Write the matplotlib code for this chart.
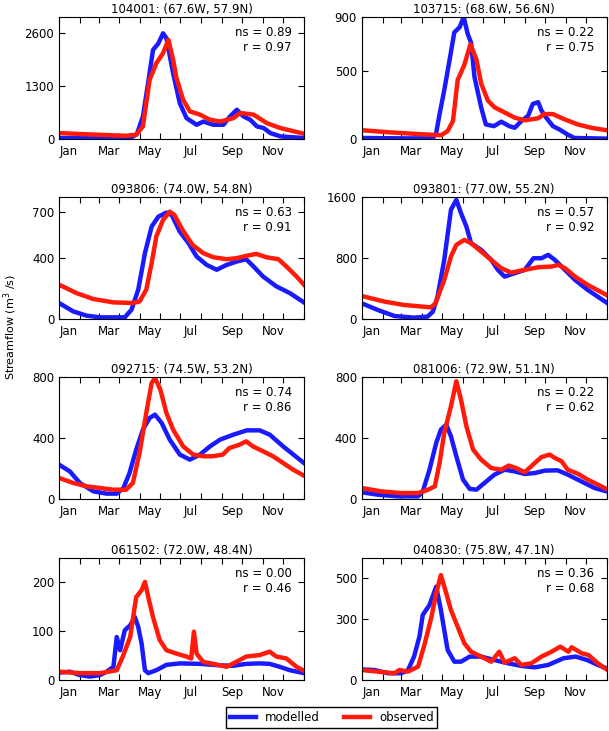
import matplotlib
matplotlib.use("Agg")
import matplotlib.pyplot as plt
from matplotlib.ticker import FixedLocator, FixedFormatter

# Stations: title, ns, r, y-limit, y-ticks
titles = ["104001: (67.6W, 57.9N)", "103715: (68.6W, 56.6N)",
          "093806: (74.0W, 54.8N)", "093801: (77.0W, 55.2N)",
          "092715: (74.5W, 53.2N)", "081006: (72.9W, 51.1N)",
          "061502: (72.0W, 48.4N)", "040830: (75.8W, 47.1N)"]
ns_vals = [0.89, 0.22, 0.63, 0.57, 0.74, 0.22, 0.00, 0.36]
r_vals = [0.97, 0.75, 0.91, 0.92, 0.86, 0.62, 0.46, 0.68]
ymax = [3000, 900, 800, 1600, 800, 800, 250, 600]
yticks = [[0, 1300, 2600], [0, 500, 900], [0, 400, 700], [0, 800, 1600],
          [0, 400, 800], [0, 400, 800], [0, 100, 200], [0, 300, 500]]

# modelled / observed streamflow (day of year, m3/s)
mod_day_1 = [0, 50, 106, 116, 125, 133, 140, 148, 155, 160, 170, 180, 190, 205, 215, 230, 245, 255, 265, 275, 285, 295, 305, 315, 330, 365]
mod_q_1 = [25, 20, 20, 120, 556, 1400, 2190, 2350, 2600, 2480, 1620, 880, 515, 350, 430, 350, 350, 556, 720, 556, 474, 310, 270, 147, 65, 25]
obs_day_1 = [0, 50, 100, 115, 125, 135, 145, 155, 163, 170, 175, 185, 195, 210, 225, 240, 260, 270, 290, 310, 330, 350, 365]
obs_q_1 = [147, 110, 80, 106, 310, 1456, 1865, 2110, 2440, 1950, 1500, 965, 680, 600, 475, 430, 515, 640, 600, 390, 270, 190, 130]

mod_day_2 = [0, 60, 106, 111, 116, 123, 131, 138, 146, 152, 158, 163, 168, 178, 185, 197, 208, 220, 228, 238, 248, 255, 263, 268, 275, 285, 295, 307, 317, 365]
mod_q_2 = [8, 5, 5, 45, 183, 360, 585, 787, 825, 900, 775, 710, 460, 234, 108, 95, 128, 95, 83, 133, 171, 259, 272, 209, 158, 95, 70, 33, 8, 3]
obs_day_2 = [0, 40, 80, 118, 128, 136, 143, 153, 162, 171, 178, 188, 198, 213, 228, 243, 263, 272, 285, 302, 322, 342, 365]
obs_q_2 = [65, 50, 38, 28, 58, 133, 435, 548, 699, 586, 410, 284, 234, 196, 158, 138, 153, 184, 184, 146, 108, 83, 65]

mod_day_3 = [0, 21, 41, 61, 98, 108, 118, 128, 138, 148, 160, 168, 180, 193, 205, 220, 235, 250, 265, 279, 290, 304, 324, 344, 365]
mod_q_3 = [105, 50, 22, 11, 11, 61, 192, 432, 606, 671, 698, 682, 573, 497, 410, 355, 323, 355, 377, 392, 344, 279, 214, 170, 109]
obs_day_3 = [0, 26, 51, 81, 110, 120, 130, 138, 145, 155, 165, 172, 184, 199, 215, 230, 250, 265, 279, 294, 309, 327, 339, 354, 365]
obs_q_3 = [225, 170, 131, 109, 105, 115, 192, 366, 541, 650, 704, 682, 584, 486, 432, 405, 392, 399, 414, 427, 405, 392, 344, 279, 225]

mod_day_4 = [0, 24, 49, 78, 98, 106, 113, 123, 133, 141, 148, 156, 163, 178, 193, 203, 213, 228, 243, 256, 268, 278, 288, 303, 318, 337, 365]
mod_q_4 = [206, 118, 39, 18, 31, 96, 293, 775, 1432, 1564, 1388, 1213, 994, 907, 775, 644, 556, 600, 644, 797, 797, 841, 775, 644, 512, 381, 215]
obs_day_4 = [0, 34, 63, 103, 110, 123, 133, 141, 153, 163, 178, 193, 208, 223, 243, 263, 283, 293, 303, 318, 337, 365]
obs_q_4 = [302, 228, 184, 153, 206, 512, 819, 972, 1038, 994, 885, 775, 666, 609, 644, 679, 688, 710, 666, 556, 447, 315]

mod_day_5 = [0, 16, 31, 51, 71, 86, 96, 105, 115, 125, 135, 143, 153, 165, 180, 195, 210, 225, 240, 260, 280, 299, 314, 334, 365]
mod_q_5 = [225, 181, 105, 50, 35, 35, 72, 170, 324, 455, 531, 553, 498, 389, 291, 258, 291, 345, 389, 422, 450, 450, 422, 345, 236]
obs_day_5 = [0, 21, 41, 61, 81, 100, 110, 120, 130, 138, 143, 151, 160, 170, 185, 200, 215, 229, 244, 254, 269, 279, 289, 304, 319, 334, 349, 365]
obs_q_5 = [138, 105, 83, 72, 61, 61, 105, 302, 564, 761, 794, 717, 564, 455, 345, 291, 280, 280, 291, 334, 356, 378, 345, 313, 280, 236, 192, 153]

mod_day_6 = [0, 24, 54, 84, 91, 101, 111, 118, 126, 133, 141, 151, 161, 171, 183, 198, 213, 228, 243, 258, 273, 292, 307, 327, 347, 365]
mod_q_6 = [44, 28, 17, 17, 50, 192, 367, 455, 487, 411, 280, 127, 66, 61, 105, 160, 192, 181, 164, 170, 186, 188, 160, 116, 72, 50]
obs_day_6 = [0, 29, 59, 84, 99, 109, 116, 123, 133, 141, 148, 156, 166, 178, 193, 208, 219, 230, 243, 258, 268, 280, 288, 298, 307, 322, 337, 352, 365]
obs_q_6 = [72, 50, 39, 39, 61, 83, 236, 433, 608, 772, 651, 477, 324, 258, 203, 192, 219, 203, 175, 236, 275, 291, 269, 247, 192, 166, 127, 94, 66]

mod_day_7 = [0, 16, 31, 46, 61, 71, 81, 86, 91, 98, 106, 113, 118, 123, 128, 133, 145, 160, 180, 210, 240, 259, 279, 299, 314, 329, 344, 365]
mod_q_7 = [15, 17, 10, 7, 10, 17, 27, 88, 61, 102, 112, 129, 109, 75, 20, 14, 20, 31, 34, 33, 30, 29, 33, 34, 33, 27, 20, 14]
obs_day_7 = [0, 31, 61, 86, 95, 106, 115, 123, 128, 133, 140, 150, 160, 175, 190, 197, 201, 205, 215, 230, 250, 264, 279, 299, 314, 324, 339, 354, 365]
obs_q_7 = [17, 14, 14, 20, 48, 88, 170, 184, 201, 170, 129, 82, 61, 54, 48, 44, 99, 54, 37, 33, 27, 37, 48, 51, 58, 48, 44, 27, 19]

mod_day_8 = [0, 19, 39, 59, 69, 78, 86, 91, 101, 111, 118, 128, 138, 148, 161, 178, 198, 218, 238, 258, 278, 301, 319, 336, 352, 365]
mod_q_8 = [52, 49, 33, 33, 49, 115, 213, 320, 369, 459, 344, 148, 90, 90, 115, 115, 98, 82, 69, 62, 74, 107, 115, 98, 74, 57]
obs_day_8 = [0, 24, 49, 56, 69, 84, 94, 104, 111, 118, 126, 133, 143, 153, 163, 178, 193, 205, 213, 228, 238, 253, 268, 283, 296, 308, 313, 328, 338, 352, 365]
obs_q_8 = [49, 41, 33, 49, 41, 66, 180, 311, 426, 516, 426, 344, 262, 180, 139, 115, 90, 139, 85, 107, 74, 82, 115, 139, 164, 139, 161, 131, 123, 82, 52]

mod_days = [mod_day_1, mod_day_2, mod_day_3, mod_day_4, mod_day_5, mod_day_6, mod_day_7, mod_day_8]
mod_q = [mod_q_1, mod_q_2, mod_q_3, mod_q_4, mod_q_5, mod_q_6, mod_q_7, mod_q_8]
obs_days = [obs_day_1, obs_day_2, obs_day_3, obs_day_4, obs_day_5, obs_day_6, obs_day_7, obs_day_8]
obs_q = [obs_q_1, obs_q_2, obs_q_3, obs_q_4, obs_q_5, obs_q_6, obs_q_7, obs_q_8]

month_starts = [0, 31, 59, 90, 120, 151, 181, 212, 243, 273, 304, 334, 365]
label_pos = [15, 74, 135, 196, 258, 319]
month_labels = ["Jan", "Mar", "May", "Jul", "Sep", "Nov"]

plt.rcParams["font.family"] = "DejaVu Sans"
plt.rcParams["font.size"] = 8

fig = plt.figure(figsize=(6.09, 7.31), dpi=100)
lefts = [0.097, 0.594]
bottoms = [0.8098, 0.5636, 0.3174, 0.0698]
w, h = 0.402, 0.1669

for i in range(8):
    ax = fig.add_axes([lefts[i % 2], bottoms[i // 2], w, h])
    l1, = ax.plot(mod_days[i], mod_q[i], color="#1a1aff", lw=3.2, label="modelled")
    l2, = ax.plot(obs_days[i], obs_q[i], color="#ff1a0a", lw=3.2, label="observed")
    ax.set_xlim(0, 365)
    ax.set_ylim(0, ymax[i])
    ax.set_yticks(yticks[i])
    ax.xaxis.set_major_locator(FixedLocator(month_starts))
    ax.xaxis.set_major_formatter(FixedFormatter([""] * len(month_starts)))
    ax.xaxis.set_minor_locator(FixedLocator(label_pos))
    ax.xaxis.set_minor_formatter(FixedFormatter(month_labels))
    ax.tick_params(which="major", direction="in", top=True, right=True, length=4, labelsize=8.5)
    ax.tick_params(which="minor", length=0, labelsize=8.5, pad=4.5)
    ax.set_title(titles[i], fontsize=8.5, pad=3)
    ax.text(0.95, 0.93, f"ns = {ns_vals[i]:.2f}\nr = {r_vals[i]:.2f}",
            transform=ax.transAxes, ha="right", va="top", fontsize=8.5, linespacing=1.2)

fig.text(0.016, 0.553, "Streamflow (m$^3$ /s)", rotation=90, ha="center", va="center", fontsize=8)
fig.legend([l1, l2], ["modelled", "observed"], loc="center", bbox_to_anchor=(0.545, 0.0185),
           ncol=2, fontsize=8.5, fancybox=False, edgecolor="black", handlelength=2.2,
           borderpad=0.3, columnspacing=2.0, framealpha=1)

fig.savefig("out.png", dpi=100)
